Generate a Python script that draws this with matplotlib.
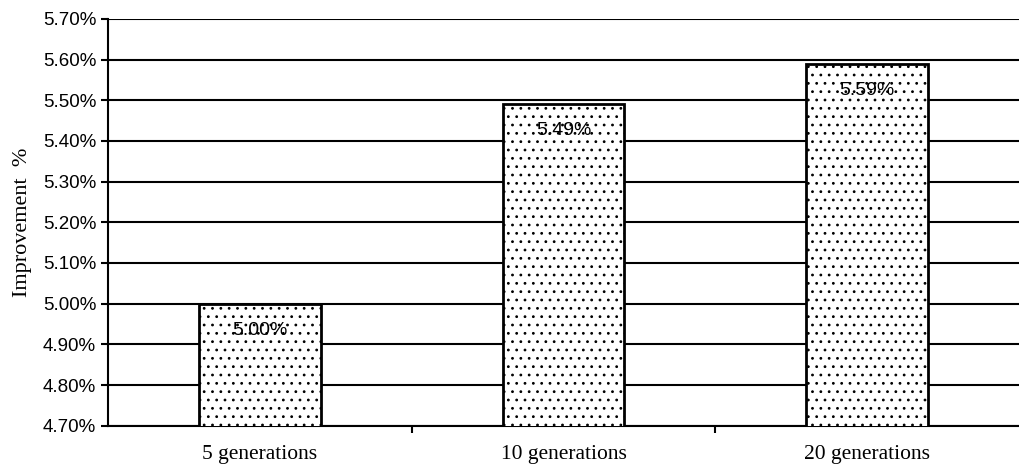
import matplotlib.pyplot as plt
import matplotlib as mpl
from matplotlib.ticker import FuncFormatter, FixedLocator

# data
categories = ["5 generations", "10 generations", "20 generations"]
improvement = [5.00, 5.49, 5.59]
bar_labels = ["5.00%", "5.49%", "5.59%"]

mpl.rcParams['hatch.linewidth'] = 0.8

fig = plt.figure(figsize=(10.19, 4.72), dpi=100)
ax = fig.add_axes([0.106, 0.098, 0.894, 0.862])

x = range(len(categories))
bars = ax.bar(x, improvement, width=0.4, bottom=0, color="white",
              edgecolor="black", linewidth=2, hatch="..", zorder=3)

# value labels sit a little below the top of each bar
for b, lab in zip(bars, bar_labels):
    ax.text(b.get_x() + b.get_width() / 2, b.get_height() - 0.065, lab,
            ha="center", va="center", fontsize=14, family="Liberation Sans", zorder=4)

ax.set_ylim(4.70, 5.70)
ax.set_xlim(-0.5, 2.5)
ax.set_yticks([4.70 + 0.1 * i for i in range(11)])
ax.yaxis.set_major_formatter(FuncFormatter(lambda v, p: f"{v:.2f}%"))
for lab in ax.get_yticklabels():
    lab.set_family("Liberation Sans")
    lab.set_fontsize(13.5)

ax.yaxis.grid(True, color="black", linewidth=1.5, zorder=0)
ax.set_axisbelow(True)

# ticks between the categories, names centred under the bars
ax.xaxis.set_major_locator(FixedLocator([0.5, 1.5]))
ax.xaxis.set_major_formatter(FuncFormatter(lambda v, p: ""))
ax.set_xticks(list(x), categories, minor=True)
ax.tick_params(axis="x", which="minor", length=0, pad=14, labelsize=15.5)
ax.tick_params(axis="x", which="major", length=5, width=1.5, direction="out")
ax.tick_params(axis="y", length=5, width=1.5, direction="out")
for lab in ax.get_xticklabels(minor=True):
    lab.set_family("Liberation Serif")

ax.set_ylabel("Improvement  %", family="Liberation Serif", fontsize=16, labelpad=8)

for s in ["left", "bottom"]:
    ax.spines[s].set_linewidth(1.5)
ax.spines["right"].set_visible(False)
ax.spines["top"].set_visible(False)

fig.savefig("out.png", dpi=100)
